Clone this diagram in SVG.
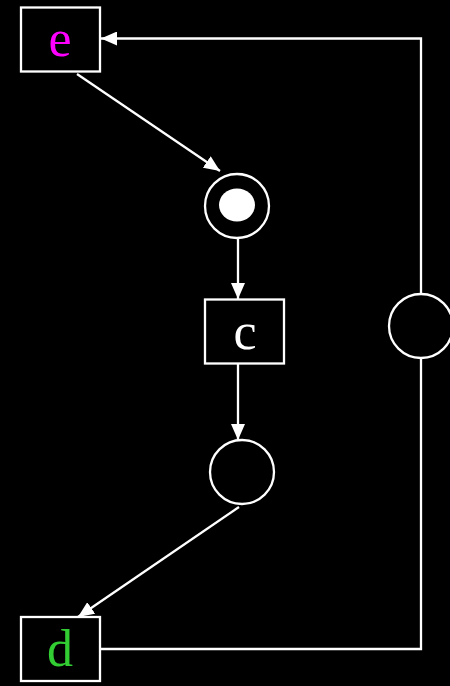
<svg xmlns="http://www.w3.org/2000/svg" width="450" height="686" viewBox="0 0 450 686">
<style>
.box{fill:#000;stroke:#fff;stroke-width:2.3}
.place{fill:#000;stroke:#fff;stroke-width:2.3}
.edge{fill:none;stroke:#fff;stroke-width:2.3}
.lbl{font-family:"Liberation Serif","Times New Roman",serif;font-size:52px;text-anchor:middle}
</style>
<defs>
<marker id="arr" viewBox="0 0 16 14" refX="16" refY="7" markerWidth="16" markerHeight="14" markerUnits="userSpaceOnUse" orient="auto">
<path d="M0,0 L16,7 L0,14 z" fill="#fff"/>
</marker>
</defs>
<rect width="450" height="686" fill="#000"/>
<g id="connectors">
<path class="edge" d="M421,294 L421,38.5 L101,38.5" marker-end="url(#arr)"/>
<path class="edge" d="M77,74 L220,171" marker-end="url(#arr)"/>
<path class="edge" d="M238,237 L238,299" marker-end="url(#arr)"/>
<path class="edge" d="M238,364 L238,440" marker-end="url(#arr)"/>
<path class="edge" d="M239,507 L78,617" marker-end="url(#arr)"/>
<path class="edge" d="M421,358 L421,649 L101,649"/>
</g>
<g id="node-e">
<rect class="box" x="21" y="7.5" width="79" height="64"/>
<text class="lbl" x="60" y="56" fill="#ff00ff">e</text>
</g>
<g id="node-p1">
<circle class="place" cx="237" cy="206" r="32"/>
<ellipse cx="237" cy="205" rx="18" ry="16.5" fill="#fff"/>
</g>
<g id="node-c">
<rect class="box" x="205" y="299.5" width="79" height="64"/>
<text class="lbl" x="245" y="349" fill="#fff">c</text>
</g>
<g id="node-p2">
<circle class="place" cx="242" cy="472" r="32"/>
</g>
<g id="node-p3">
<circle class="place" cx="421" cy="326" r="32"/>
</g>
<g id="node-d">
<rect class="box" x="21" y="617" width="79" height="64"/>
<text class="lbl" x="60" y="666" fill="#32cd32">d</text>
</g>
</svg>
